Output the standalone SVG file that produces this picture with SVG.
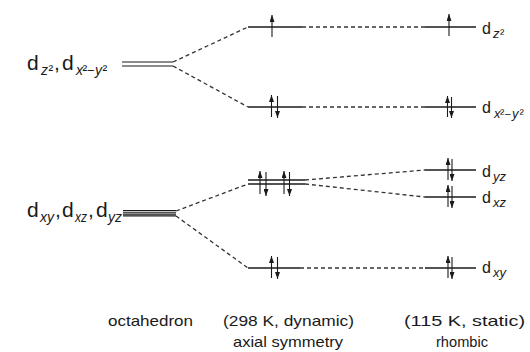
<svg xmlns="http://www.w3.org/2000/svg" width="530" height="352" viewBox="0 0 530 352">
<defs>
<style>
.lvl{stroke:#1a1a1a;stroke-width:1.6;fill:none}
.thin{stroke:#1a1a1a;stroke-width:1.1;fill:none}
.dash{stroke:#333;stroke-width:1.3;stroke-dasharray:4 3;fill:none}
.sp{stroke:#1a1a1a;stroke-width:1.1;fill:none;marker-end:url(#ah)}
.t{font-family:"Liberation Sans",Arial,sans-serif;fill:#1a1a1a}
.it{font-style:italic}
</style>
<marker id="ah" viewBox="0 0 7 5" refX="7" refY="2.5" markerWidth="7" markerHeight="5" markerUnits="userSpaceOnUse" orient="auto">
<path d="M0,0 L7,2.5 L0,5 z" fill="#1a1a1a"/>
</marker>
</defs>
<rect width="530" height="352" fill="#fff"/>

<g id="connectors">
<line class="dash" x1="173" y1="62" x2="248" y2="27"/>
<line class="dash" x1="173" y1="66" x2="248" y2="107"/>
<line class="dash" x1="176" y1="211" x2="248" y2="184"/>
<line class="dash" x1="176" y1="216" x2="248" y2="268"/>
<line class="dash" x1="302" y1="27" x2="425" y2="27"/>
<line class="dash" x1="302" y1="107" x2="425" y2="107"/>
<line class="dash" x1="305" y1="180" x2="425" y2="170"/>
<line class="dash" x1="305" y1="184" x2="425" y2="197"/>
<line class="dash" x1="300" y1="268" x2="425" y2="268"/>
</g>

<g id="oct-eg">
<line class="thin" x1="122" y1="62" x2="173" y2="62"/>
<line class="thin" x1="122" y1="66" x2="173" y2="66"/>
<text class="t" y="70"><tspan x="27" font-size="21">d</tspan><tspan x="41" y="75" font-size="14" class="it">z</tspan><tspan x="48.5" y="75" font-size="14">²</tspan><tspan x="54" y="70" font-size="21">,</tspan><tspan x="62" font-size="21">d</tspan><tspan x="76" y="75" font-size="14" class="it">x</tspan><tspan x="82.5" y="75" font-size="14">²</tspan><tspan x="87" y="75" font-size="13">−</tspan><tspan x="95" y="75" font-size="14" class="it">y</tspan><tspan x="102.5" y="75" font-size="14">²</tspan></text>
</g>

<g id="oct-t2g">
<line class="thin" x1="123" y1="210.5" x2="176" y2="210.5"/>
<line class="thin" x1="123" y1="212.3" x2="176" y2="212.3"/>
<line class="thin" x1="123" y1="214.1" x2="176" y2="214.1"/>
<line class="thin" x1="123" y1="215.9" x2="176" y2="215.9"/>
<text class="t" y="217"><tspan x="27" font-size="21">d</tspan><tspan x="40" y="222" font-size="14" class="it" textLength="14" lengthAdjust="spacingAndGlyphs">xy</tspan><tspan x="55" y="217" font-size="21">,</tspan><tspan x="62" font-size="21">d</tspan><tspan x="75" y="222" font-size="14" class="it" textLength="12" lengthAdjust="spacingAndGlyphs">xz</tspan><tspan x="88" y="217" font-size="21">,</tspan><tspan x="96" font-size="21">d</tspan><tspan x="108" y="222" font-size="14" class="it" textLength="14" lengthAdjust="spacingAndGlyphs">yz</tspan></text>
</g>

<g id="ax-z2">
<line class="lvl" x1="248" y1="27" x2="302" y2="27"/>
<line class="sp" x1="272" y1="37" x2="272" y2="15"/>
</g>
<g id="ax-x2y2">
<line class="lvl" x1="248" y1="107" x2="302" y2="107"/>
<line class="sp" x1="271.5" y1="117" x2="271.5" y2="95"/>
<line class="sp" x1="277.5" y1="96" x2="277.5" y2="118"/>
</g>
<g id="ax-eg">
<line class="lvl" x1="248" y1="180" x2="305" y2="180"/>
<line class="lvl" x1="248" y1="184" x2="305" y2="184"/>
<line class="sp" x1="260" y1="194" x2="260" y2="171"/>
<line class="sp" x1="266" y1="172" x2="266" y2="196"/>
<line class="sp" x1="284" y1="194" x2="284" y2="171"/>
<line class="sp" x1="289.5" y1="172" x2="289.5" y2="196"/>
</g>
<g id="ax-xy">
<line class="lvl" x1="248" y1="268" x2="300" y2="268"/>
<line class="sp" x1="271.5" y1="278" x2="271.5" y2="256"/>
<line class="sp" x1="277.5" y1="257" x2="277.5" y2="279"/>
</g>

<g id="rh-z2">
<line class="lvl" x1="425" y1="27" x2="476" y2="27"/>
<line class="sp" x1="449" y1="36" x2="449" y2="14"/>
<text class="t" y="34"><tspan x="482" font-size="16">d</tspan><tspan x="493" y="38" font-size="13" class="it">z</tspan><tspan x="500" y="38" font-size="13">²</tspan></text>
</g>
<g id="rh-x2y2">
<line class="lvl" x1="425" y1="107" x2="476" y2="107"/>
<line class="sp" x1="447.5" y1="117" x2="447.5" y2="96"/>
<line class="sp" x1="451.5" y1="97" x2="451.5" y2="118"/>
<text class="t" y="113"><tspan x="482" font-size="16">d</tspan><tspan x="494" y="118" font-size="13" class="it">x</tspan><tspan x="500" y="118" font-size="13">²</tspan><tspan x="504.5" y="118" font-size="11">−</tspan><tspan x="512" y="118" font-size="13" class="it">y</tspan><tspan x="519.5" y="118" font-size="13">²</tspan></text>
</g>
<g id="rh-yz">
<line class="lvl" x1="425" y1="170" x2="476" y2="170"/>
<line class="sp" x1="448" y1="180" x2="448" y2="158"/>
<line class="sp" x1="452" y1="159" x2="452" y2="181"/>
<text class="t" y="177"><tspan x="482" font-size="16">d</tspan><tspan x="493" y="181" font-size="13" class="it">yz</tspan></text>
</g>
<g id="rh-xz">
<line class="lvl" x1="425" y1="197" x2="476" y2="197"/>
<line class="sp" x1="448" y1="207" x2="448" y2="185"/>
<line class="sp" x1="452" y1="186" x2="452" y2="208"/>
<text class="t" y="203"><tspan x="482" font-size="16">d</tspan><tspan x="493" y="207" font-size="13" class="it">xz</tspan></text>
</g>
<g id="rh-xy">
<line class="lvl" x1="425" y1="268" x2="476" y2="268"/>
<line class="sp" x1="448" y1="278" x2="448" y2="256"/>
<line class="sp" x1="452" y1="257" x2="452" y2="279"/>
<text class="t" y="273"><tspan x="482" font-size="16">d</tspan><tspan x="493" y="277" font-size="13" class="it">xy</tspan></text>
</g>

<g id="captions" class="t" font-size="15">
<text x="108" y="326" textLength="85" lengthAdjust="spacingAndGlyphs">octahedron</text>
<text x="223" y="326" textLength="131" lengthAdjust="spacingAndGlyphs">(298 K, dynamic)</text>
<text x="233" y="347" textLength="110" lengthAdjust="spacingAndGlyphs">axial symmetry</text>
<text x="404" y="326" textLength="121" lengthAdjust="spacingAndGlyphs">(115 K, static)</text>
<text x="436" y="347" textLength="52" lengthAdjust="spacingAndGlyphs">rhombic</text>
</g>
</svg>
